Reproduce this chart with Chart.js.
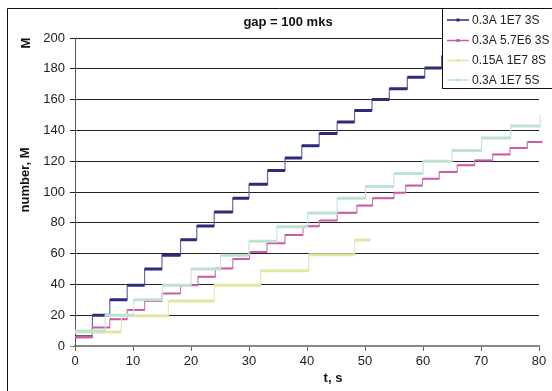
<!DOCTYPE html>
<html><head><meta charset="utf-8">
<script src="https://cdn.jsdelivr.net/npm/chart.js@4.4.1/dist/chart.umd.min.js"></script>
<style>html,body{margin:0;padding:0;background:#fff;}canvas{display:block;}</style>
</head><body>
<canvas id="c" width="552" height="391"></canvas>
<script>
const chartTitle = 'gap = 100 mks';
const xTitle = 't, s';
const yTitle = 'number, M';
const yTopLabel = 'M';
const seriesNames = ['0.3A 1E7 3S', '0.3A 5.7E6 3S', '0.15A 1E7 8S', '0.3A 1E7 5S'];
const xTicks = [0, 10, 20, 30, 40, 50, 60, 70, 80];
const yTicks = [0, 20, 40, 60, 80, 100, 120, 140, 160, 180, 200];

// step start times (s) and levels (M)
const blueT = [0, 3, 6, 9, 12, 15, 18.2, 21, 24, 27.2, 30, 33.2, 36.2, 39.1, 42.1, 45.2, 48.2, 51.2, 54.2, 57.3, 60.3, 63.2, 66];
const blueY = [6, 20, 30, 39.5, 50, 59, 69, 78, 87, 96, 105, 114, 122, 130, 138, 145.5, 153, 160, 167, 174.5, 180.6, 188, 188];

const pinkT = [0, 3, 6, 9, 12, 15, 18.2, 21.2, 24.2, 27.2, 30.1, 33.1, 36.2, 39.3, 42.1, 45.2, 48.6, 51.3, 55, 57, 59.9, 62.8, 65.9, 68.9, 72, 75, 78, 80.5];
const pinkY = [5.9, 12, 17.4, 23.3, 29.3, 34.1, 39.5, 45, 50.4, 56.5, 61, 66.7, 72, 77.7, 81.5, 86.5, 91.2, 96, 99.5, 104.2, 108.6, 113, 117.3, 120.5, 124.4, 128.6, 132.5, 131.6];

const yellowT = [0, 8, 16.1, 24, 32, 40.3, 48.2, 51];
const yellowY = [9.1, 19.6, 29.3, 39.5, 48.9, 59.3, 68.9, 68.9];

const greenT = [0, 5.2, 10.1, 15.1, 20, 25.1, 30, 34.8, 40.1, 45.2, 50.1, 55, 60, 65, 70.1, 75.1, 80.2];
const greenY = [9.8, 20, 30, 39.5, 50, 59, 68, 77.5, 86.4, 96, 103.6, 112, 119.9, 127, 135, 142.9, 150];

const colors = ['#2c2a7a', '#cc5aa6', '#e1e8a2', '#bde3d0'];
const riserColors = ['#6a68a8', '#d67cb8', '#e4eab0', '#c6e8d8'];
const widths = [3, 2, 3, 3];

function pts(T, Y) { return T.map((t, i) => ({ x: t, y: Y[i] })); }
// horizontal treads only (each level held until next step time), gaps between
function treads(T, Y) {
  const out = [];
  for (let i = 0; i < T.length - 1; i++) {
    out.push({ x: T[i], y: Y[i] }, { x: T[i + 1], y: Y[i] }, { x: T[i + 1], y: null });
  }
  return out;
}
const seriesT = [blueT, pinkT, yellowT, greenT];
const seriesY = [blueY, pinkY, yellowY, greenY];
const drawOrder = [3, 2, 1, 0];

const FONT = '"Liberation Sans", Arial, sans-serif';

const decor = {
  id: 'decor',
  afterDraw(chart) {
    const ctx = chart.ctx;
    ctx.save();
    ctx.strokeStyle = '#111';
    ctx.lineWidth = 1;
    ctx.beginPath();
    ctx.moveTo(7.5, 391); ctx.lineTo(7.5, 8.5); ctx.lineTo(552, 8.5);
    ctx.stroke();
    ctx.fillStyle = '#111';
    ctx.font = 'bold 13px ' + FONT;
    ctx.textAlign = 'center';
    ctx.textBaseline = 'middle';
    ctx.fillText(chartTitle, 288, 22);
    ctx.fillText(xTitle, 333, 378);
    ctx.save();
    ctx.translate(25, 180); ctx.rotate(-Math.PI / 2);
    ctx.fillText(yTitle, 0, 0);
    ctx.restore();
    ctx.save();
    ctx.translate(26, 43); ctx.rotate(-Math.PI / 2);
    ctx.fillText(yTopLabel, 0, 0);
    ctx.restore();
    // legend
    ctx.fillStyle = '#fff';
    ctx.fillRect(442.5, 8.5, 120, 80);
    ctx.strokeStyle = '#111';
    ctx.strokeRect(442.5, 8.5, 120, 80);
    const rows = [20, 40.5, 60.5, 80];
    ctx.font = '12px ' + FONT;
    ctx.textAlign = 'left';
    for (let i = 0; i < 4; i++) {
      const y = rows[i];
      ctx.strokeStyle = colors[i];
      ctx.lineWidth = 1.5;
      ctx.beginPath(); ctx.moveTo(447, y); ctx.lineTo(469, y); ctx.stroke();
      ctx.fillStyle = colors[i];
      ctx.fillRect(456.5, y - 1.5, 3, 3);
      ctx.fillStyle = '#222';
      ctx.fillText(seriesNames[i], 472, y + 0.5);
    }
    ctx.restore();
  }
};

const datasets = [];
seriesNames.forEach((n, i) => {
  datasets.push({
    label: n + ' risers',
    data: pts(seriesT[i], seriesY[i]),
    stepped: true,
    borderColor: riserColors[i],
    borderWidth: 1.2,
    pointRadius: 0,
    fill: false,
    order: drawOrder[i] * 2 + 1,
    clip: 6
  });
  datasets.push({
    label: n,
    data: treads(seriesT[i], seriesY[i]),
    spanGaps: false,
    borderColor: colors[i],
    backgroundColor: colors[i],
    borderWidth: widths[i],
    borderCapStyle: 'butt',
    pointRadius: 0,
    fill: false,
    order: drawOrder[i] * 2,
    clip: 6
  });
});

new Chart(document.getElementById('c'), {
  type: 'line',
  data: { datasets },
  options: {
    responsive: false,
    animation: false,
    devicePixelRatio: 1,
    layout: { padding: { left: 0, right: 13, top: 38, bottom: 0 } },
    plugins: { legend: { display: false }, tooltip: { enabled: false }, title: { display: false } },
    scales: {
      x: {
        type: 'linear', min: 0, max: 80,
        afterBuildTicks(s) { s.ticks = xTicks.map(v => ({ value: v })); },
        afterFit(s) { s.height = 45; },
        ticks: { color: '#222', font: { family: FONT, size: 13 }, padding: 3, maxRotation: 0 },
        grid: { drawOnChartArea: false, drawTicks: true, tickLength: 5, color: '#666' },
        border: { color: '#888', width: 2 }
      },
      y: {
        min: 0, max: 200,
        afterBuildTicks(s) { s.ticks = yTicks.map(v => ({ value: v })); },
        afterFit(s) { s.width = 75; },
        ticks: { color: '#222', font: { family: FONT, size: 13 }, padding: 5 },
        grid: { color: (c) => (c.tick && c.tick.value === 0 ? '#888' : '#222'), lineWidth: 1, tickLength: 5, drawTicks: true },
        border: { color: '#555', width: 1 }
      }
    }
  },
  plugins: [decor]
});
</script>
</body></html>
